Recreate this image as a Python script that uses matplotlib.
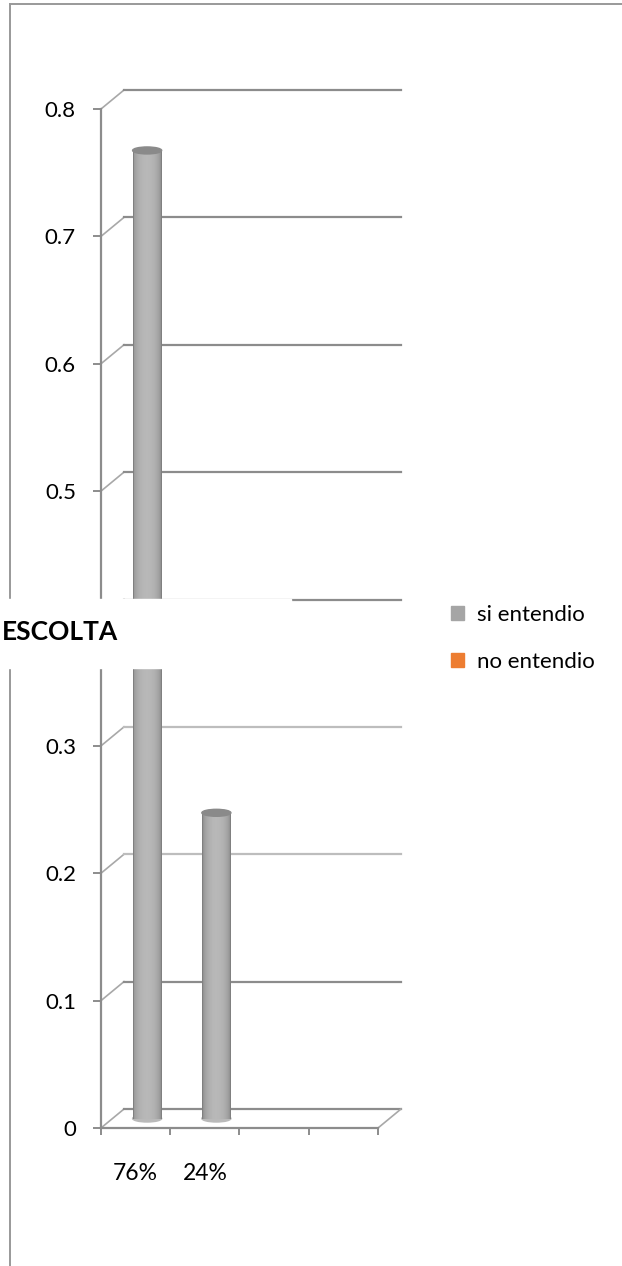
import numpy as np
import matplotlib
matplotlib.use('Agg')
import matplotlib.pyplot as plt
from matplotlib.patches import Ellipse, Rectangle, Patch
from matplotlib.lines import Line2D
from matplotlib.transforms import offset_copy, IdentityTransform

# data
categories = ['76%', '24%', '', '']
si_entendio = [0.76, 0.24]
series_names = ['si entendio', 'no entendio']
series_colors = ['#a5a5a5', '#ed7d31']
y_ticks = [0, 0.1, 0.2, 0.3, 0.4, 0.5, 0.6, 0.7, 0.8]
title = 'ESCOLTA'

W, H = 622, 1266
DPI = 100
plt.rcParams['font.family'] = ['Lato', 'DejaVu Sans']

fig = plt.figure(figsize=(W / DPI, H / DPI), dpi=DPI)
ax = fig.add_axes([101 / W, (H - 1128) / H, 277 / W, 1019 / H])
ax.set_xlim(0, len(categories))
ax.set_ylim(0, 0.8)

axis_grey = '#8c8c8c'
light_grey = '#bdbdbd'
dx, dy = 23, 19  # depth of the fake 3d box, pixels

back = offset_copy(ax.transData, fig=fig, x=dx, y=dy, units='dots')
mid = offset_copy(ax.transData, fig=fig, x=dx / 2, y=dy / 2, units='dots')

# axes frame
for side in ['top', 'right']:
    ax.spines[side].set_visible(False)
for side in ['left', 'bottom']:
    ax.spines[side].set_color(axis_grey)
    ax.spines[side].set_linewidth(1.6)

ax.set_yticks(y_ticks)
ax.set_yticklabels([f'{t:g}' for t in y_ticks])
ax.tick_params(axis='y', length=6, width=1.4, color=axis_grey, pad=12,
               labelsize=16, labelcolor='black')
# the 0.4 label sits under the title box
for t, lab in zip(y_ticks, ax.get_yticklabels()):
    if abs(t - 0.4) < 1e-9:
        lab.set_visible(False)

ax.set_xticks(range(len(categories) + 1))
ax.set_xticklabels([])
ax.set_xticks(np.arange(len(categories)) + 0.5, minor=True)
ax.set_xticklabels(categories, minor=True)
ax.tick_params(axis='x', which='major', length=5, width=1.4, color=axis_grey)
ax.tick_params(axis='x', which='minor', length=0, pad=25, labelsize=16.5)

# back wall gridlines and floor
ident = IdentityTransform()
for yv in y_ticks:
    p = ax.transData.transform((0, yv))
    ax.add_line(Line2D([p[0], p[0] + dx], [p[1], p[1] + dy], transform=ident,
                       color='#a8a8a8', lw=1.2, clip_on=False, zorder=1))
    c = light_grey if 0.15 < yv < 0.35 else axis_grey
    ax.plot([0, len(categories)], [yv, yv], transform=back, color=c,
            lw=1.6, clip_on=False, zorder=1)
p = ax.transData.transform((len(categories), 0))
ax.add_line(Line2D([p[0], p[0] + dx], [p[1], p[1] + dy], transform=ident,
                   color='#a8a8a8', lw=1.2, clip_on=False, zorder=1))

# cylinders
bw = 0.42
n = 30
pos = np.linspace(-1, 1, n)
shade = 0.50 + 0.22 * np.sqrt(1 - pos ** 2)
for i, v in enumerate(si_entendio):
    xc = i + 0.5
    xs = xc - bw / 2 + (np.arange(n) + 0.5) * bw / n
    for xi, s in zip(xs, shade):
        ax.bar(xi, v, width=bw / n * 1.05, color=(s, s, s), transform=mid,
               clip_on=False, zorder=3, linewidth=0)
    eh = 7 * 0.8 / 1019
    ax.add_patch(Ellipse((xc, 0), bw, eh, transform=mid, color='#b9b9b9',
                         zorder=2, clip_on=False))
    ax.add_patch(Ellipse((xc, v), bw, eh, transform=mid, color='#8a8a8a',
                         zorder=4, clip_on=False))

# box behind the title
fig.add_artist(Rectangle((0, 1 - 668 / H), 291 / W, 69 / H,
                         transform=fig.transFigure, color='white', zorder=10))
fig.text(2 / W, 1 - 632 / H, title, fontsize=19, fontweight='bold',
         ha='left', va='center', zorder=11)

# legend
handles = [Patch(color=c) for c in series_colors]
fig.legend(handles, series_names, loc='upper left',
           bbox_to_anchor=(431 / W, 1 - 585 / H), frameon=False,
           handlelength=0.6, handleheight=0.6, handletextpad=0.55,
           labelspacing=1.2, fontsize=16)

# chart area border
fig.add_artist(Line2D([9.5 / W, 9.5 / W], [0, 1 - 4 / H], color='#999999',
                      lw=1.4, zorder=5))
fig.add_artist(Line2D([9.5 / W, 1], [1 - 4 / H, 1 - 4 / H], color='#999999',
                      lw=1.4, zorder=5))

fig.savefig('out.png', dpi=DPI, facecolor='white')
